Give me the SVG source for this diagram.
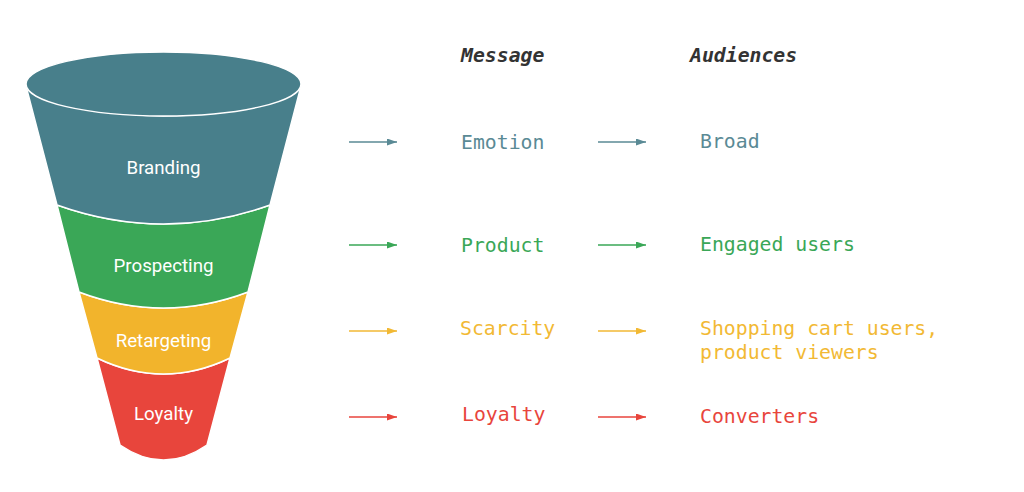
<svg xmlns="http://www.w3.org/2000/svg" width="1024" height="492" viewBox="0 0 1024 492">
<style>
.band{stroke:#fff;stroke-width:1.5}
.fl{font-family:Roboto,"Open Sans",sans-serif;font-size:18.7px;fill:#fff;text-anchor:middle}
.m{font-family:"DejaVu Sans Mono","Liberation Mono",monospace;font-size:19.8px}
.h{font-family:"DejaVu Sans Mono","Liberation Mono",monospace;font-size:19.8px;font-weight:bold;font-style:italic;fill:#333}
.c1{fill:#5a8a95}.c2{fill:#3aa757}.c3{fill:#f2b934}.c4{fill:#e8453c}
</style>
<defs>
<marker id="a1" markerWidth="10" markerHeight="7" refX="10" refY="3.5" orient="auto" markerUnits="userSpaceOnUse"><path d="M0,0L10,3.5L0,7z" fill="#5a8a95"/></marker>
<marker id="a2" markerWidth="10" markerHeight="7" refX="10" refY="3.5" orient="auto" markerUnits="userSpaceOnUse"><path d="M0,0L10,3.5L0,7z" fill="#3aa757"/></marker>
<marker id="a3" markerWidth="10" markerHeight="7" refX="10" refY="3.5" orient="auto" markerUnits="userSpaceOnUse"><path d="M0,0L10,3.5L0,7z" fill="#f2b934"/></marker>
<marker id="a4" markerWidth="10" markerHeight="7" refX="10" refY="3.5" orient="auto" markerUnits="userSpaceOnUse"><path d="M0,0L10,3.5L0,7z" fill="#e8453c"/></marker>
</defs>
<g id="funnel">
<g id="loyalty-band"><path class="band" fill="#e8453c" d="M97,358 Q163.5,390 230,358 L207,445 Q163.5,475 120,445 Z"/><text class="fl" x="163.5" y="420">Loyalty</text></g>
<g id="retargeting-band"><path class="band" fill="#f2b42c" d="M79,292 Q163.5,324 248,292 L230,358 Q163.5,390 97,358 Z"/><text class="fl" x="163.5" y="347">Retargeting</text></g>
<g id="prospecting-band"><path class="band" fill="#3aa757" d="M57,205 Q163.5,243 270,205 L248,292 Q163.5,324 79,292 Z"/><text class="fl" x="163.5" y="272">Prospecting</text></g>
<g id="branding-band"><path class="band" fill="#487f8b" d="M26,86 Q163.5,146 301,86 L270,205 Q163.5,243 57,205 Z"/><ellipse class="band" fill="#487f8b" cx="163.5" cy="84" rx="137.5" ry="32"/><text class="fl" x="163.5" y="174">Branding</text></g>
</g>
<g id="headers"><text class="h" x="461" y="62">Message</text><text class="h" x="690" y="62">Audiences</text></g>
<g id="connectors" stroke-width="1.3">
<line x1="349" y1="142" x2="397" y2="142" stroke="#5a8a95" marker-end="url(#a1)"/>
<line x1="598" y1="142" x2="646" y2="142" stroke="#5a8a95" marker-end="url(#a1)"/>
<line x1="349" y1="245" x2="397" y2="245" stroke="#3aa757" marker-end="url(#a2)"/>
<line x1="598" y1="245" x2="646" y2="245" stroke="#3aa757" marker-end="url(#a2)"/>
<line x1="349" y1="331" x2="397" y2="331" stroke="#f2b934" marker-end="url(#a3)"/>
<line x1="598" y1="331" x2="646" y2="331" stroke="#f2b934" marker-end="url(#a3)"/>
<line x1="349" y1="417" x2="397" y2="417" stroke="#e8453c" marker-end="url(#a4)"/>
<line x1="598" y1="417" x2="646" y2="417" stroke="#e8453c" marker-end="url(#a4)"/>
</g>
<g id="row1"><text class="m c1" x="461" y="149">Emotion</text><text class="m c1" x="700" y="148">Broad</text></g>
<g id="row2"><text class="m c2" x="461" y="252">Product</text><text class="m c2" x="700" y="251">Engaged users</text></g>
<g id="row3"><text class="m c3" x="460" y="335">Scarcity</text><text class="m c3" x="700" y="335">Shopping cart users,</text><text class="m c3" x="700" y="359">product viewers</text></g>
<g id="row4"><text class="m c4" x="462" y="421">Loyalty</text><text class="m c4" x="700" y="423">Converters</text></g>
</svg>
